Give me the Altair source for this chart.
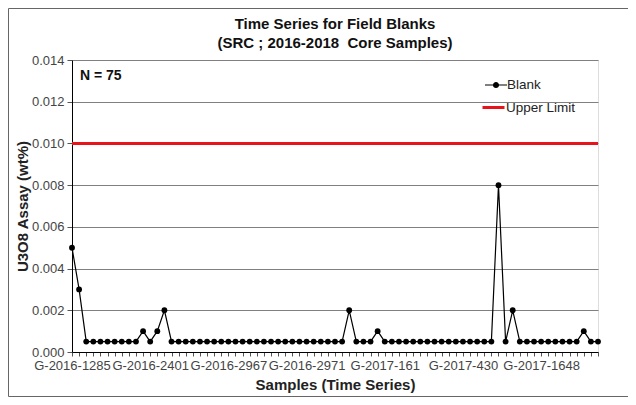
import altair as alt
import pandas as pd

# ---- data ----
blank_values = [
    0.005, 0.003, 0.0005, 0.0005, 0.0005, 0.0005, 0.0005, 0.0005, 0.0005, 0.0005,
    0.001, 0.0005, 0.001, 0.002, 0.0005, 0.0005, 0.0005, 0.0005, 0.0005, 0.0005,
    0.0005, 0.0005, 0.0005, 0.0005, 0.0005, 0.0005, 0.0005, 0.0005, 0.0005, 0.0005,
    0.0005, 0.0005, 0.0005, 0.0005, 0.0005, 0.0005, 0.0005, 0.0005, 0.0005, 0.002,
    0.0005, 0.0005, 0.0005, 0.001, 0.0005, 0.0005, 0.0005, 0.0005, 0.0005, 0.0005,
    0.0005, 0.0005, 0.0005, 0.0005, 0.0005, 0.0005, 0.0005, 0.0005, 0.0005, 0.0005,
    0.008, 0.0005, 0.002, 0.0005, 0.0005, 0.0005, 0.0005, 0.0005, 0.0005, 0.0005,
    0.0005, 0.0005, 0.001, 0.0005, 0.0005,
]
sample_index = list(range(len(blank_values)))
tick_positions = [0, 11, 22, 33, 44, 55, 66]
tick_labels = ["G-2016-1285", "G-2016-2401", "G-2016-2967", "G-2016-2971",
               "G-2017-161", "G-2017-430", "G-2017-1648"]
upper_limit = [0.010]
y_ticks = [0.0, 0.002, 0.004, 0.006, 0.008, 0.010, 0.012, 0.014]
n_label = ["N = 75"]

FONT = "Liberation Sans"

df = pd.DataFrame({"idx": sample_index, "value": blank_values,
                   "series": ["Blank"] * len(blank_values)})
rule_df = pd.DataFrame({"limit": upper_limit, "series": ["Upper Limit"]})
n_df = pd.DataFrame({"txt": n_label})
frame_df = pd.DataFrame({"k": [1]})

label_expr = "".join(
    f"datum.value == {p} ? '{l}' : " for p, l in zip(tick_positions, tick_labels)
) + "''"

x_enc = alt.X(
    "idx:Q",
    scale=alt.Scale(domain=[0, len(blank_values) - 1], nice=False, zero=False),
    axis=alt.Axis(
        values=sample_index, labelExpr=label_expr, labelOverlap=False,
        labelFlush=False, grid=False, tickSize=4, tickColor="#555",
        domainColor="black", labelFontSize=13, labelColor="#444",
        labelFont=FONT, labelPadding=3, title="Samples (Time Series)",
        titleFont=FONT, titleFontSize=15, titleFontWeight="bold",
        titleColor="#222", titlePadding=5,
    ),
)
y_scale = alt.Scale(domain=[0, 0.014], nice=False)
y_axis = alt.Axis(
    values=y_ticks, format=".3f", tickSize=5, tickColor="#555",
    domainColor="black", gridColor="#808080", gridWidth=1.2,
    labelFontSize=13, labelColor="#444", labelFont=FONT, labelPadding=3,
    title="U3O8 Assay (wt%)", titleFont=FONT, titleFontSize=15,
    titleFontWeight="bold", titleColor="#222", titlePadding=1,
)
y_enc = alt.Y("value:Q", scale=y_scale, axis=y_axis)

line = alt.Chart(df).mark_line(color="black", strokeWidth=1.2).encode(x=x_enc, y=y_enc)

blank_symbol = ("M-1,-0.055L1,-0.055L1,0.055L-1,0.055Z "
                "M0.28,0A0.28,0.28 0 1 1 -0.28,0A0.28,0.28 0 1 1 0.28,0Z")
points = alt.Chart(df).mark_point(filled=True, size=34, opacity=1).encode(
    x=x_enc, y=y_enc,
    color=alt.Color(
        "series:N",
        scale=alt.Scale(domain=["Blank"], range=["black"]),
        legend=alt.Legend(
            title=None, orient="none", legendX=413, legendY=14,
            symbolType=blank_symbol, symbolSize=484, symbolOpacity=1,
            symbolFillColor="black", symbolStrokeWidth=0,
            labelFont=FONT, labelFontSize=13.5, labelColor="#222",
            labelOffset=0, padding=0,
        ),
    ),
)

rule = alt.Chart(rule_df).mark_rule(strokeWidth=3).encode(
    y=alt.Y("limit:Q", scale=y_scale, axis=y_axis),
    stroke=alt.Stroke(
        "series:N",
        scale=alt.Scale(domain=["Upper Limit"], range=["#e8141c"]),
        legend=alt.Legend(
            title=None, orient="none", legendX=409, legendY=35,
            symbolType="stroke", symbolSize=484, symbolStrokeWidth=3,
            labelFont=FONT, labelFontSize=13.5, labelColor="#222",
            labelOffset=0, padding=0,
        ),
    ),
)

n_text = alt.Chart(n_df).mark_text(
    align="left", baseline="middle", font=FONT, fontSize=14,
    fontWeight="bold", color="#111"
).encode(x=alt.value(8), y=alt.value(16), text="txt:N")

frame = alt.Chart(frame_df).mark_rect(
    fill=None, stroke="#666", strokeWidth=1
).encode(x=alt.value(-63.5), x2=alt.value(620), y=alt.value(-51.5), y2=alt.value(336.5))

chart = alt.layer(frame, rule, line, points, n_text).properties(
    width=526, height=292,
    autosize=alt.AutoSizeParams(type="none"),
    padding={"left": 64, "top": 52, "right": 30, "bottom": 45},
    title=alt.TitleParams(
        text=["Time Series for Field Blanks", "(SRC ; 2016-2018\u00a0 Core Samples)"],
        font=FONT, fontSize=15, fontWeight="bold", color="#111",
        anchor="middle", frame="group", offset=-43, lineHeight=19,
    ),
).resolve_legend(color="independent", stroke="independent").configure_view(
    stroke="black", strokeWidth=1
).configure(background="white")

chart.save("out.html", embed_options={"renderer": "svg", "actions": False})
